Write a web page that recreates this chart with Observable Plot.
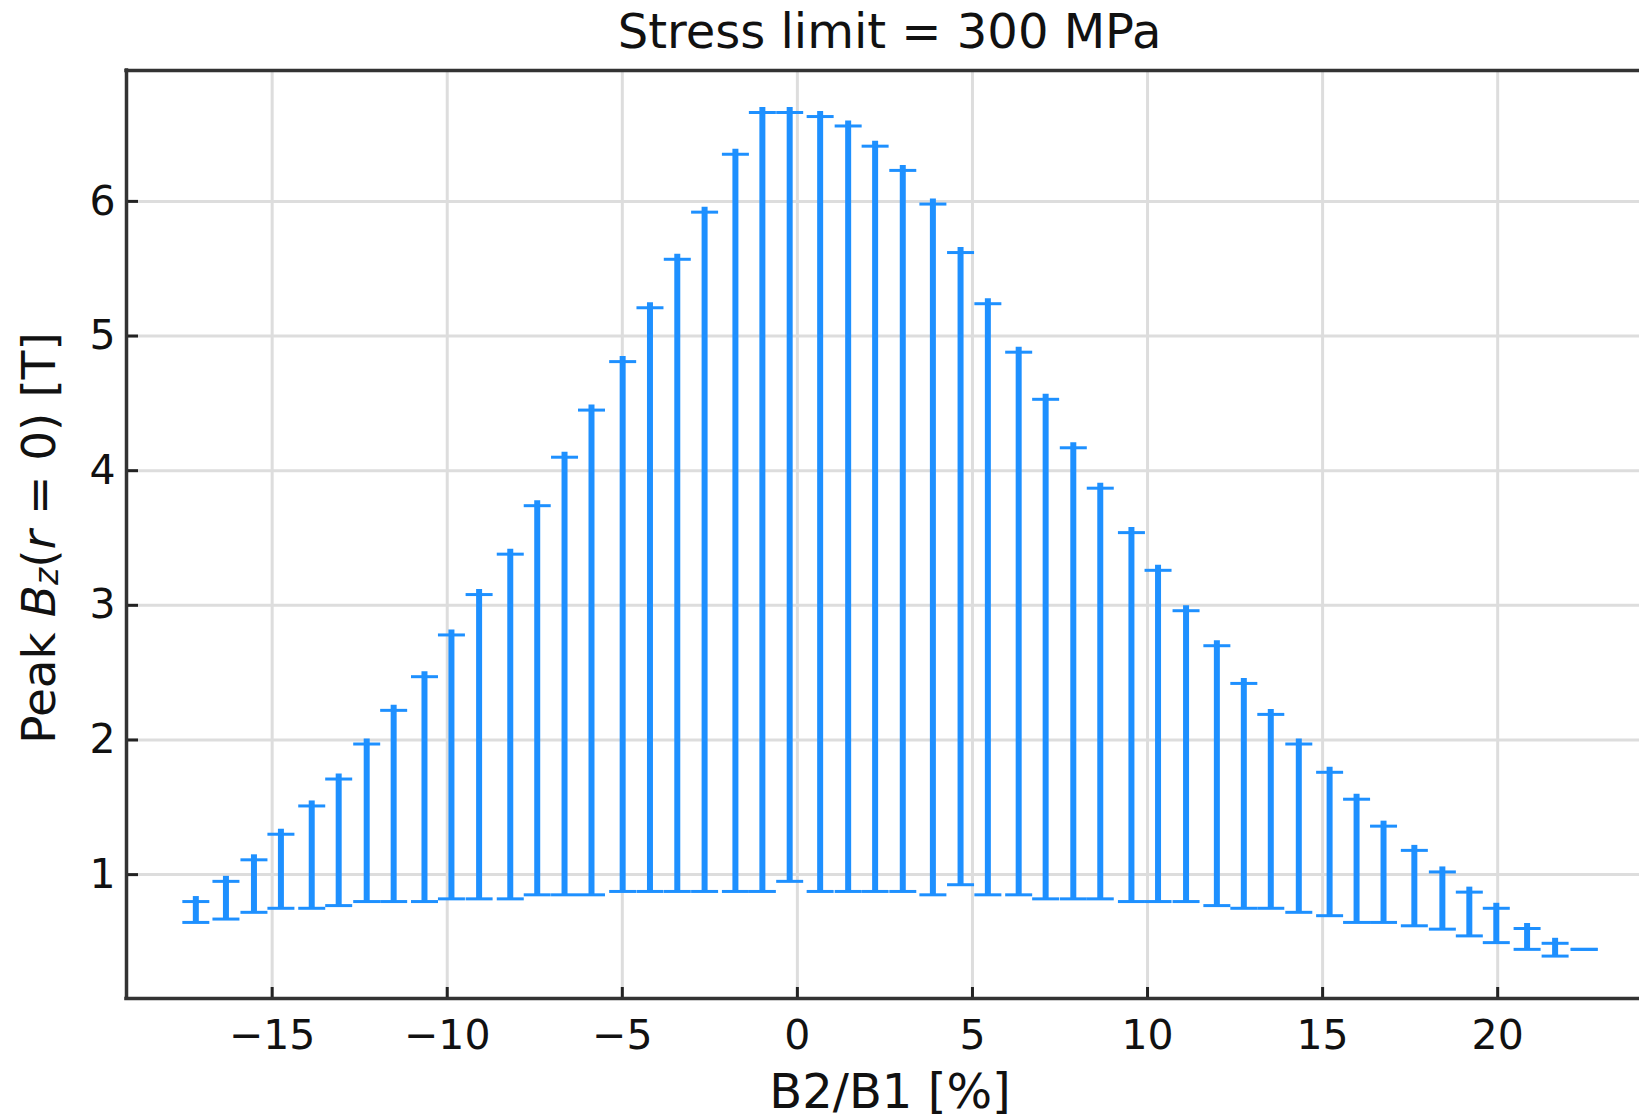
<!DOCTYPE html>
<html>
<head>
<meta charset="utf-8">
<script src="https://cdn.jsdelivr.net/npm/d3@7"></script>
<script src="https://cdn.jsdelivr.net/npm/@observablehq/plot@0.6"></script>
<style>
html, body { margin: 0; padding: 0; background: #fff; overflow: hidden; }
#title { position: relative; height: 62px; width: 1639px; font-family: "DejaVu Sans"; color: #111; }
#title span { position: absolute; left: 126px; width: 1527px; top: 7px; text-align: center; font-size: 48px; line-height: 48px; white-space: pre; }
</style>
</head>
<body>
<div id="title"><span>Stress limit = 300 MPa</span></div>
<div id="chart"></div>
<script>
// B2/B1 [%] positions of each error bar
const xs = [-17.18,-16.32,-15.52,-14.75,-13.87,-13.10,-12.30,-11.53,-10.65,-9.88,
            -9.09,-8.20,-7.43,-6.65,-5.88,-4.99,-4.21,-3.43,-2.65,-1.77,
            -1.00,-0.22,0.65,1.45,2.22,3.01,3.87,4.66,5.44,6.32,
            7.09,7.88,8.65,9.54,10.30,11.10,11.98,12.75,13.52,14.32,
            15.20,15.97,16.74,17.62,18.42,19.19,19.96,20.84,21.64,22.47];
// lower end of each bar, Peak Bz(r=0) [T]
const lows = [0.645,0.67,0.72,0.75,0.75,0.77,0.80,0.80,0.80,0.82,
              0.82,0.82,0.85,0.85,0.85,0.875,0.875,0.875,0.875,0.875,
              0.875,0.95,0.875,0.875,0.875,0.875,0.85,0.925,0.85,0.85,
              0.82,0.82,0.82,0.80,0.80,0.80,0.77,0.75,0.75,0.72,
              0.695,0.645,0.645,0.62,0.595,0.545,0.495,0.445,0.395,0.445];
// upper end of each bar, Peak Bz(r=0) [T]
const highs = [0.80,0.95,1.11,1.30,1.51,1.71,1.97,2.22,2.47,2.78,
               3.08,3.38,3.74,4.10,4.45,4.81,5.21,5.57,5.92,6.35,
               6.66,6.66,6.63,6.56,6.41,6.23,5.98,5.62,5.24,4.88,
               4.53,4.17,3.87,3.54,3.26,2.96,2.70,2.42,2.19,1.97,
               1.76,1.56,1.36,1.18,1.02,0.87,0.75,0.60,0.49,0.445];
const xTicks = [-15,-10,-5,0,5,10,15,20];
const yTicks = [1,2,3,4,5,6];
const xDomain = [-19.16, 24.45];
const yDomain = [0.080, 6.972];
const xLabel = "B2/B1 [%]";

const data = xs.map((x, i) => ({x, low: lows[i], high: highs[i]}));

const blue = "#1e90ff";
const capSymbol = {
  draw(context, size) {
    const r = Math.sqrt(size / Math.PI);
    context.moveTo(-r, 0);
    context.lineTo(r, 0);
  }
};

const W = 1639, H = 1057;
const plot = Plot.plot({
  width: W,
  height: H,
  marginTop: 8,
  marginBottom: 121,
  marginLeft: 126,
  marginRight: 0,
  style: {fontFamily: "DejaVu Sans", fontSize: "41px", color: "#111", background: "white"},
  x: {domain: xDomain, range: [126, 1653]},
  y: {domain: yDomain},
  marks: [
    Plot.gridX(xTicks, {stroke: "#dddddd", strokeOpacity: 1, strokeWidth: 3}),
    Plot.gridY(yTicks, {stroke: "#dddddd", strokeOpacity: 1, strokeWidth: 3}),
    Plot.ruleX(data.filter(d => d.high > d.low), {x: "x", y1: "high", y2: "low", stroke: blue, strokeWidth: 6, insetTop: -5}),
    Plot.dot(data, {x: "x", y: "high", symbol: capSymbol, r: 13.5, fill: "none", stroke: blue, strokeWidth: 3}),
    Plot.dot(data, {x: "x", y: "low", symbol: capSymbol, r: 13.5, fill: "none", stroke: blue, strokeWidth: 3}),
    Plot.axisX({ticks: xTicks, tickSize: 0, tickPadding: 21, fontSize: 41, label: null, fill: "#111"}),
    Plot.axisY({ticks: yTicks, tickSize: 0, tickPadding: 11, fontSize: 41, label: null, fill: "#111", tickFormat: d3.format("d")}),
    Plot.ruleX(xTicks, {x: d => d, y1: yDomain[0], y2: yDomain[0], insetTop: -11, stroke: "#222", strokeWidth: 3}),
    Plot.ruleY(yTicks, {y: d => d, x1: xDomain[0], x2: xDomain[0], insetRight: -12, stroke: "#222", strokeWidth: 3}),
    Plot.ruleX([xDomain[0]], {stroke: "#333", strokeWidth: 3.5, strokeLinecap: "square"}),
    Plot.ruleY([yDomain[0], yDomain[1]], {stroke: "#333", strokeWidth: 3.5, strokeLinecap: "square"}),
    Plot.text([xLabel], {frameAnchor: "bottom", dx: 7, dy: 94, lineAnchor: "middle", fontSize: 48, fill: "#111"})
  ]
});

document.getElementById("chart").appendChild(plot);

// y-axis label with italic / subscript parts
const ylab = d3.select(plot).append("text")
  .attr("text-anchor", "start")
  .attr("font-family", "DejaVu Sans")
  .attr("font-size", 47)
  .attr("fill", "#111");
ylab.append("tspan").text("Peak ");
ylab.append("tspan").attr("font-style", "italic").text("B");
ylab.append("tspan").attr("font-style", "italic").attr("font-size", "0.7em").attr("dy", "0.1em").text("z");
ylab.append("tspan").attr("dy", "-0.07em").text("(");
ylab.append("tspan").attr("font-style", "italic").text("r");
ylab.append("tspan").text(" = 0) [T]");
const len = ylab.node().getComputedTextLength();
ylab.attr("transform", `translate(55,${476 + len / 2}) rotate(-90)`);
</script>
</body>
</html>
